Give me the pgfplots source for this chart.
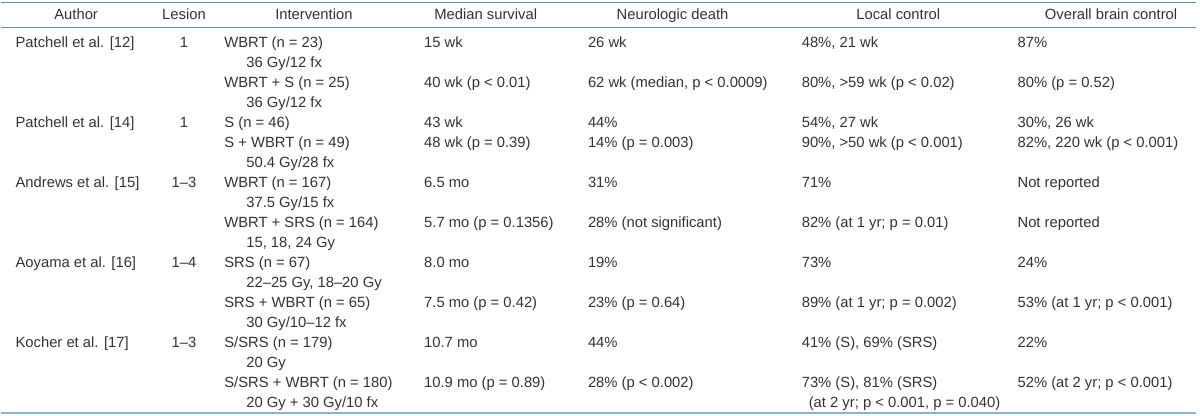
\documentclass[border=0pt]{standalone}
\usepackage{fontspec}
\setmainfont{Liberation Sans}
\usepackage{pgfplots}
\pgfplotsset{compat=1.18}
\definecolor{txt}{HTML}{333333}
\definecolor{rule}{HTML}{5E8FB3}
\definecolor{rulelight}{HTML}{86B6D6}
\newcommand\T[3]{\node[anchor=base west,inner sep=0pt,text=txt,font=\fontsize{7.4}{9}\selectfont] at (axis cs:#1,#2) {#3};}
\newcommand\C[3]{\node[anchor=base,inner sep=0pt,text=txt,font=\fontsize{7.4}{9}\selectfont] at (axis cs:#1,#2) {#3};}
\begin{document}
\begin{tikzpicture}
\begin{axis}[xmin=0,xmax=1200,ymin=0,ymax=416,y dir=reverse,
  width=600pt,height=208pt,scale only axis,hide axis,clip=false]
\path (axis cs:0,0) rectangle (axis cs:1200,416);
\draw[rule,line width=0.6pt] (axis cs:0,2.5) -- (axis cs:1196,2.5);
\draw[rule,line width=0.6pt] (axis cs:0,27.5) -- (axis cs:1196,27.5);
\draw[rulelight,line width=1.2pt] (axis cs:0,413.5) -- (axis cs:1196,413.5);
% header
\C{75}{20}{Author}
\C{183}{20}{Lesion}
\C{313}{20}{Intervention}
\C{485}{20}{Median survival}
\C{672}{20}{Neurologic death}
\C{898}{20}{Local control}
\C{1111}{20}{Overall brain control}
% rows: baseline = 48 + 20*i
% Patchell 12
\T{14}{48}{Patchell et al. [12]}
\C{183}{48}{1}
\T{223}{48}{WBRT (n = 23)}
\T{245}{68}{36 Gy/12 fx}
\T{223}{88}{WBRT + S (n = 25)}
\T{245}{108}{36 Gy/12 fx}
\T{423}{48}{15 wk}
\T{423}{88}{40 wk (p < 0.01)}
\T{587}{48}{26 wk}
\T{587}{88}{62 wk (median, p < 0.0009)}
\T{801}{48}{48\%, 21 wk}
\T{801}{88}{80\%, >59 wk (p < 0.02)}
\T{1017}{48}{87\%}
\T{1017}{88}{80\% (p = 0.52)}
% Patchell 14
\T{14}{128}{Patchell et al. [14]}
\C{183}{128}{1}
\T{223}{128}{S (n = 46)}
\T{223}{148}{S + WBRT (n = 49)}
\T{245}{168}{50.4 Gy/28 fx}
\T{423}{128}{43 wk}
\T{423}{148}{48 wk (p = 0.39)}
\T{587}{128}{44\%}
\T{587}{148}{14\% (p = 0.003)}
\T{801}{128}{54\%, 27 wk}
\T{801}{148}{90\%, >50 wk (p < 0.001)}
\T{1017}{128}{30\%, 26 wk}
\T{1017}{148}{82\%, 220 wk (p < 0.001)}
% Andrews
\T{14}{188}{Andrews et al. [15]}
\C{183}{188}{1--3}
\T{223}{188}{WBRT (n = 167)}
\T{245}{208}{37.5 Gy/15 fx}
\T{223}{228}{WBRT + SRS (n = 164)}
\T{245}{248}{15, 18, 24 Gy}
\T{423}{188}{6.5 mo}
\T{423}{228}{5.7 mo (p = 0.1356)}
\T{587}{188}{31\%}
\T{587}{228}{28\% (not significant)}
\T{801}{188}{71\%}
\T{801}{228}{82\% (at 1 yr; p = 0.01)}
\T{1017}{188}{Not reported}
\T{1017}{228}{Not reported}
% Aoyama
\T{14}{268}{Aoyama et al. [16]}
\C{183}{268}{1--4}
\T{223}{268}{SRS (n = 67)}
\T{245}{288}{22--25 Gy, 18--20 Gy}
\T{223}{308}{SRS + WBRT (n = 65)}
\T{245}{328}{30 Gy/10--12 fx}
\T{423}{268}{8.0 mo}
\T{423}{308}{7.5 mo (p = 0.42)}
\T{587}{268}{19\%}
\T{587}{308}{23\% (p = 0.64)}
\T{801}{268}{73\%}
\T{801}{308}{89\% (at 1 yr; p = 0.002)}
\T{1017}{268}{24\%}
\T{1017}{308}{53\% (at 1 yr; p < 0.001)}
% Kocher
\T{14}{348}{Kocher et al. [17]}
\C{183}{348}{1--3}
\T{223}{348}{S/SRS (n = 179)}
\T{245}{368}{20 Gy}
\T{223}{388}{S/SRS + WBRT (n = 180)}
\T{245}{408}{20 Gy + 30 Gy/10 fx}
\T{423}{348}{10.7 mo}
\T{423}{388}{10.9 mo (p = 0.89)}
\T{587}{348}{44\%}
\T{587}{388}{28\% (p < 0.002)}
\T{801}{348}{41\% (S), 69\% (SRS)}
\T{801}{388}{73\% (S), 81\% (SRS)}
\T{808}{408}{(at 2 yr; p < 0.001, p = 0.040)}
\T{1017}{348}{22\%}
\T{1017}{388}{52\% (at 2 yr; p < 0.001)}
\end{axis}
\end{tikzpicture}
\end{document}
